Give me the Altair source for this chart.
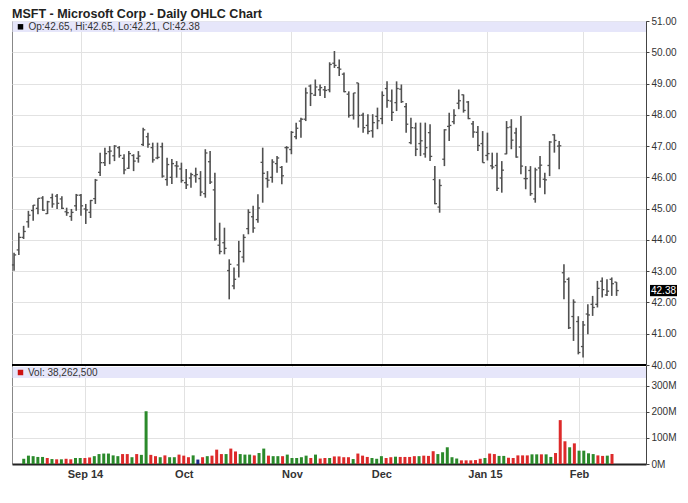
import altair as alt
import pandas as pd
import numpy as np

# ---------------- data (trading-day index -1 .. 125, Aug 12 2014 .. Feb 11 2015) ----------------
opens = [43.20,
 43.68, 44.08, 44.58, 44.94, 45.01, 45.34, 44.84, 45.35, 45.40, 45.31,
 44.90, 44.75, 45.09, 45.43, 44.99, 44.88, 45.32, 46.16, 46.47, 46.82,
 46.69, 46.95, 46.61, 46.29, 46.70, 46.61, 47.05, 47.30, 46.95, 46.62,
 46.98, 45.93, 46.00, 46.37, 46.27, 45.83, 45.98, 46.05, 45.96, 45.48,
 46.50, 45.60, 43.83, 43.91, 43.02, 42.53, 43.20, 43.45, 44.36, 44.74,
 44.65, 46.48, 45.96, 46.00, 46.44, 46.32, 46.95, 46.89, 47.30, 47.80,
 47.86, 48.92, 48.63, 48.80, 48.80, 48.80, 49.65, 49.51, 49.30, 48.66,
 47.99, 49.02, 47.99, 47.66, 47.49, 47.95, 47.88, 48.84, 48.44, 48.39,
 48.82, 48.26, 47.11, 47.58, 47.08, 46.75, 47.43, 45.93, 45.05, 46.58,
 47.63, 47.78, 48.37, 48.64, 48.41, 47.71, 47.44, 47.08, 46.70, 46.37,
 46.38, 45.98, 46.75, 47.61, 47.42, 46.97, 45.96, 46.22, 45.31, 46.30,
 45.94, 46.38, 47.36, 47.00, 42.95, 42.74, 41.55, 41.39, 40.59, 41.63,
 41.94, 41.94, 42.68, 42.24, 42.74, 42.65]
highs = [43.59,
 44.23, 44.45, 44.93, 45.12, 45.33, 45.40, 45.25, 45.48, 45.47, 45.40,
 45.03, 44.99, 45.47, 45.47, 45.15, 45.28, 45.95, 46.79, 46.95, 47.00,
 47.03, 47.00, 46.74, 46.84, 46.74, 46.84, 47.59, 47.43, 47.11, 47.11,
 47.11, 46.63, 46.59, 46.52, 46.47, 46.27, 46.15, 46.31, 46.20, 46.90,
 46.84, 46.15, 44.55, 44.39, 43.38, 43.12, 43.97, 44.18, 44.98, 45.09,
 45.46, 46.95, 46.20, 46.58, 46.68, 46.36, 47.00, 47.48, 47.75, 47.91,
 48.87, 48.97, 49.13, 48.97, 48.92, 49.68, 50.04, 49.77, 49.35, 48.75,
 48.70, 49.02, 48.07, 48.02, 48.02, 48.23, 48.75, 49.07, 48.81, 49.07,
 48.97, 48.38, 47.91, 47.75, 47.75, 47.75, 47.70, 46.36, 45.94, 47.54,
 48.07, 48.18, 48.81, 48.65, 48.44, 47.80, 47.64, 47.48, 47.43, 46.79,
 46.79, 46.52, 47.80, 47.86, 47.59, 47.96, 46.36, 46.36, 46.31, 46.68,
 46.15, 47.16, 47.38, 47.16, 43.22, 42.80, 42.10, 41.56, 41.41, 41.94,
 42.21, 42.69, 42.80, 42.74, 42.80, 42.65]
lows = [43.01,
 43.52, 44.03, 44.39, 44.61, 44.82, 44.93, 44.83, 45.03, 44.99, 44.99,
 44.77, 44.61, 44.93, 44.77, 44.51, 44.70, 45.15, 46.04, 46.36, 46.42,
 46.52, 46.63, 46.10, 46.27, 46.20, 46.47, 47.00, 46.95, 46.47, 46.58,
 45.99, 45.73, 45.79, 45.99, 45.83, 45.63, 45.67, 45.83, 45.40, 45.35,
 45.79, 43.97, 43.54, 43.54, 42.10, 42.42, 42.80, 43.28, 44.18, 44.23,
 44.55, 45.19, 45.67, 45.83, 46.15, 45.78, 46.47, 46.74, 47.22, 47.27,
 47.80, 48.28, 48.60, 48.60, 48.54, 48.72, 49.50, 49.24, 48.72, 47.91,
 47.85, 47.59, 47.43, 47.38, 47.27, 47.54, 47.70, 48.23, 47.80, 48.12,
 48.38, 47.43, 47.06, 46.68, 46.68, 46.63, 46.52, 45.14, 44.87, 46.36,
 47.16, 47.70, 48.18, 48.07, 47.86, 47.27, 46.84, 46.47, 46.54, 46.26,
 45.56, 45.51, 46.74, 46.90, 46.63, 46.10, 45.62, 45.41, 45.19, 45.67,
 45.46, 46.04, 46.79, 46.26, 42.10, 41.15, 40.77, 40.34, 40.24, 40.98,
 41.57, 41.84, 42.16, 42.21, 42.21, 42.21]
closes = [43.52,
 44.08, 44.27, 44.79, 45.11, 45.33, 44.95, 45.22, 45.15, 45.17, 45.01,
 44.87, 44.88, 45.43, 45.09, 44.96, 45.26, 45.91, 46.47, 46.76, 46.84,
 47.00, 46.70, 46.24, 46.76, 46.52, 46.68, 47.52, 47.06, 46.56, 46.64,
 46.04, 46.41, 46.44, 46.36, 45.90, 45.76, 46.09, 46.09, 45.53, 46.78,
 45.85, 44.03, 43.63, 43.73, 43.22, 42.74, 43.63, 44.08, 44.88, 44.38,
 45.02, 46.13, 45.91, 46.49, 46.62, 46.05, 46.95, 47.44, 47.57, 47.86,
 48.70, 48.68, 48.89, 48.87, 48.78, 49.61, 49.58, 49.46, 48.74, 47.98,
 48.70, 47.98, 47.59, 47.47, 47.75, 47.81, 48.62, 48.46, 48.08, 48.84,
 48.42, 47.70, 47.59, 46.90, 47.17, 46.95, 46.67, 45.16, 45.74, 47.52,
 47.66, 47.98, 48.45, 48.14, 47.88, 47.45, 47.02, 46.47, 46.76, 46.33,
 45.65, 46.23, 47.59, 47.19, 46.65, 46.36, 45.96, 45.48, 46.24, 46.39,
 45.92, 47.13, 47.18, 47.01, 42.66, 41.19, 42.01, 40.40, 41.28, 41.60,
 41.84, 42.45, 42.41, 42.36, 42.60, 42.38]
volumes_m = [None,
 20, 32, 30, 27, 27, 23, 19, 18, 18, 20,
 18, 23, 23, 23, 25, 30, 38, 40, 40, 33,
 30, 38, 38, 26, 38, 35, 202, 35, 30, 26,
 33, 26, 26, 36, 32, 26, 33, 17, 26, 30,
 32, 55, 38, 38, 59, 48, 38, 36, 36, 33,
 42, 59, 32, 30, 30, 30, 36, 23, 23, 26,
 32, 23, 36, 21, 23, 23, 29, 29, 26, 26,
 19, 40, 32, 27, 23, 20, 30, 23, 26, 28,
 27, 27, 27, 30, 30, 32, 31, 49, 38, 45,
 64, 26, 21, 14, 14, 14, 15, 20, 23, 40,
 38, 31, 31, 24, 23, 33, 33, 33, 37, 37,
 37, 37, 27, 42, 168, 87, 64, 79, 51, 51,
 41, 38, 33, 31, 32, 38.2625]

month_ticks = [13, 34, 57, 76, 98, 118]
month_labels = ["Sep 14", "Oct", "Nov", "Dec", "Jan 15", "Feb"]
price_ticks = [40, 41, 42, 43, 44, 45, 46, 47, 48, 49, 50, 51]
vol_ticks = [0, 100, 200, 300]

title_text = "MSFT - Microsoft Corp - Daily OHLC Chart"

# ---------------- table ----------------
n = len(closes)
df = pd.DataFrame({
    "i": list(range(-1, n - 1)),
    "open": opens, "high": highs, "low": lows, "close": closes,
    "vol": volumes_m,
})
prev = df["close"].shift(1)
df["dir"] = np.where(df["close"] > prev, "up", np.where(df["close"] < prev, "down", "flat"))

W = 634
HP = 344
HV = 99
FONT = "Liberation Sans"

xscale = alt.Scale(domain=[-1.43, 131.16], nice=False, zero=False)
yscale = alt.Scale(domain=[40, 51], nice=False, zero=False)
vscale = alt.Scale(domain=[0, 379], nice=False, zero=True)

one = pd.DataFrame({"a": [0]})
last = pd.DataFrame({"c": [closes[-1]]})

label_expr = " : ".join(f"datum.value == {v} ? '{l}'" for v, l in zip(month_ticks, month_labels)) + " : ''"
ohlc_text = f"Op:{opens[-1]:.2f}, Hi:{highs[-1]:.2f}, Lo:{lows[-1]:.2f}, Cl:{closes[-1]:.2f}"
vol_text = f"Vol: {int(round(volumes_m[-1] * 1e6)):,}"

BAR = "#505050"
GRID = "#e2e2e2"

px_axis = alt.Axis(values=month_ticks, labels=False, ticks=False, domain=False, grid=True,
                   gridColor=GRID, title=None)
py_axis = alt.Axis(orient="right", values=price_ticks, format=".2f", tickSize=3, tickColor="#444",
                   domainColor="#444", labelPadding=2, labelFont=FONT, labelFontSize=10,
                   labelColor="#333", grid=True, gridColor=GRID, title=None)

# ---------------- price panel ----------------
hl = alt.Chart(df).mark_rule(color=BAR, strokeWidth=1.6).encode(
    x=alt.X("i:Q", scale=xscale, axis=px_axis),
    y=alt.Y("low:Q", scale=yscale, axis=py_axis),
    y2="high:Q",
)
open_t = alt.Chart(df).transform_calculate(xa="datum.i - 0.45").mark_rule(color=BAR, strokeWidth=1.3).encode(
    x=alt.X("xa:Q", scale=xscale, axis=px_axis), x2="i:Q",
    y=alt.Y("open:Q", scale=yscale, axis=py_axis),
)
close_t = alt.Chart(df).transform_calculate(xb="datum.i + 0.45").mark_rule(color=BAR, strokeWidth=1.3).encode(
    x=alt.X("i:Q", scale=xscale, axis=px_axis), x2="xb:Q",
    y=alt.Y("close:Q", scale=yscale, axis=py_axis),
)
band_p = alt.Chart(one).mark_rect(color="#e6e6fa").encode(
    x=alt.value(0.5), x2=alt.value(W), y=alt.value(0.5), y2=alt.value(11))
sq_p = alt.Chart(one).mark_square(size=30, color="black", opacity=1).encode(
    x=alt.value(8.5), y=alt.value(5.8))
txt_p = alt.Chart(one).mark_text(text=ohlc_text, align="left", baseline="middle", font=FONT,
                                 fontSize=10, color="#333").encode(x=alt.value(16.5), y=alt.value(6))
title = alt.Chart(one).mark_text(text=title_text, align="left", baseline="alphabetic", font=FONT,
                                 fontSize=12.5, fontWeight="bold", color="#222").encode(
    x=alt.value(0), y=alt.value(-3))
box = alt.Chart(last).transform_calculate(lo="datum.c - 0.18", hi="datum.c + 0.18").mark_rect(color="black").encode(
    x=alt.value(W + 4), x2=alt.value(W + 31),
    y=alt.Y("lo:Q", scale=yscale, axis=py_axis), y2="hi:Q")
box_t = alt.Chart(last).mark_text(text=f"{closes[-1]:.2f}", align="center", baseline="middle", font=FONT,
                                  fontSize=10, color="white").encode(
    x=alt.value(W + 17.5), y=alt.Y("c:Q", scale=yscale, axis=py_axis))

price = alt.layer(hl, open_t, close_t, band_p, sq_p, txt_p, title, box, box_t).properties(width=W, height=HP)

# ---------------- volume panel ----------------
vbars = alt.Chart(df).mark_bar(size=3).encode(
    x=alt.X("i:Q", scale=xscale, axis=alt.Axis(values=month_ticks, labelExpr=label_expr, grid=True,
                                               gridColor=GRID, ticks=False, domainColor="#222",
                                               domainWidth=2, labelFont=FONT, labelFontSize=11,
                                               labelFontWeight="bold", labelColor="#333",
                                               labelPadding=4, title=None)),
    y=alt.Y("vol:Q", scale=vscale, axis=alt.Axis(orient="right", values=vol_ticks,
                                                 labelExpr="datum.value + 'M'", tickSize=3,
                                                 tickColor="#444", domainColor="#444", labelPadding=2,
                                                 labelFont=FONT, labelFontSize=10, labelColor="#333",
                                                 grid=True, gridColor=GRID, title=None)),
    color=alt.Color("dir:N", scale=alt.Scale(domain=["up", "down", "flat"],
                                             range=["#2b8a2b", "#dd2a2a", "#1c2a8a"]), legend=None),
)
band_v = alt.Chart(one).mark_rect(color="#e6e6fa").encode(
    x=alt.value(0.5), x2=alt.value(W), y=alt.value(2), y2=alt.value(13))
sq_v = alt.Chart(one).mark_square(size=30, color="#cc1111", opacity=1).encode(
    x=alt.value(8.5), y=alt.value(7.5))
txt_v = alt.Chart(one).mark_text(text=vol_text, align="left", baseline="middle", font=FONT,
                                 fontSize=10, color="#333").encode(x=alt.value(16), y=alt.value(7.5))
topline = alt.Chart(one).mark_rule(color="black", strokeWidth=2).encode(
    x=alt.value(0), x2=alt.value(W), y=alt.value(0))

volume = alt.layer(vbars, band_v, sq_v, txt_v, topline).properties(width=W, height=HV)

chart = alt.vconcat(price, volume, spacing=0, bounds="flush").configure_view(
    stroke="#888888", strokeWidth=1
).properties(padding={"left": 2, "top": -1, "right": 0, "bottom": 0})

chart.save("out.html", embed_options={"renderer": "svg", "actions": False})
